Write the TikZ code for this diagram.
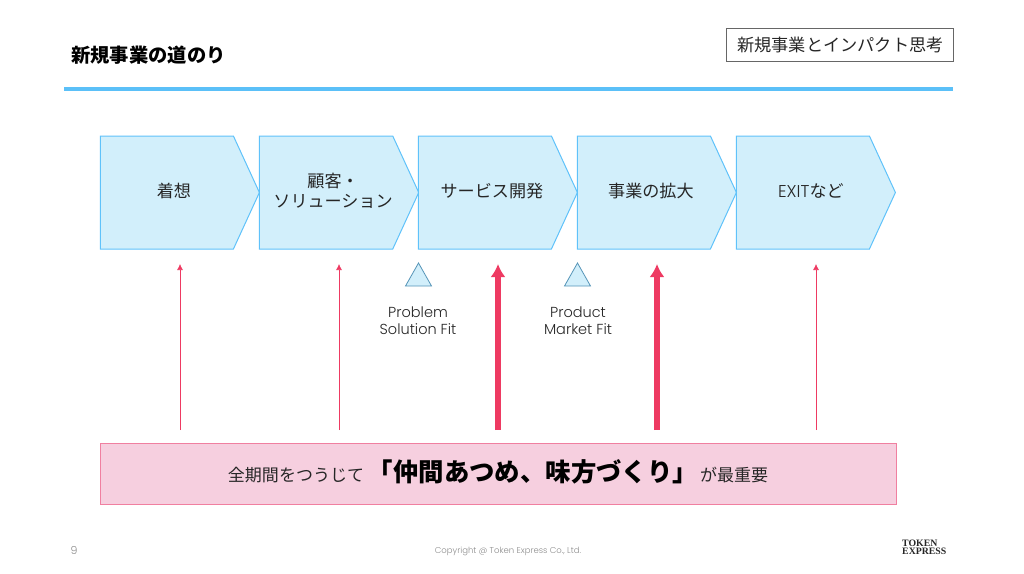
\documentclass[tikz,border=0pt]{standalone}
\usepackage{fontspec}
\setmainfont{Noto Sans CJK JP}
\newfontfamily\latfont{Poppins Light}
\newfontfamily\logofont{Liberation Serif}
\usetikzlibrary{shapes.symbols,shapes.geometric}
\usetikzlibrary{arrows.meta}
\definecolor{stepfill}{HTML}{D2EFFB}
\definecolor{stepline}{HTML}{5FC2FA}
\definecolor{rulecol}{HTML}{5BC0F8}
\definecolor{pinkfill}{HTML}{F6CFDF}
\definecolor{pinkline}{HTML}{F07FA0}
\definecolor{arrowcol}{HTML}{EE3A62}
\definecolor{textcol}{HTML}{262626}
\definecolor{footcol}{HTML}{8C8C8C}
\newcommand\stagepad[1]{\hspace*{14pt}\raisebox{0pt}[\height][\dimexpr\depth+3pt]{#1}}
\tikzset{
  stagebox/.style={signal, signal to=east, signal from=nowhere, signal pointer angle=130.6,
    anchor=west, minimum width=159pt, minimum height=113pt, inner sep=0pt, outer sep=0pt,
    draw=stepline, fill=stepfill, line width=1pt, text=textcol, font=\fontsize{17.1}{20.5}\selectfont, align=center},
  fitmark/.style={isosceles triangle, isosceles triangle stretches, shape border rotate=90,
    anchor=lower side, minimum width=26pt, minimum height=23pt, inner sep=0pt, outer sep=0pt,
    draw=stepline!70!black!90, fill=stepfill, line width=0.8pt},
  fitlabel/.style={text=textcol, font=\fontsize{14.5}{16.5}\latfont, align=center},
  thinarrow/.style={draw=arrowcol, line width=0.7pt, -{Latex[length=6pt,width=6pt]}},
  thickarrow/.style={draw=arrowcol, line width=5.5pt, -{Latex[length=13pt,width=15pt]}},
}
\begin{document}
\begin{tikzpicture}[x=1pt,y=-1pt]
\useasboundingbox (0,0) rectangle (1024,573);
% header
\node[anchor=west, font=\fontsize{19.3}{23}\bfseries, text=black] (title) at (67.7,55) {新規事業の道のり};
\node[draw=black!60, line width=0.7pt, minimum width=227pt, minimum height=33pt, inner sep=0pt,
  font=\fontsize{17.2}{21}\selectfont, text=textcol] (tag) at (839.5,44.5) {\hspace*{2pt}新規事業とインパクト思考};
\coordinate (ruleL) at (64,88.5);
\coordinate (ruleR) at (953,88.5);
\draw[rulecol, line width=4pt] (ruleL) -- (ruleR);
% stages
\node[stagebox] (idea) at (100.4,192.5) {\stagepad{着想}};
\node[stagebox] (solution) at (259.4,192.5) {\stagepad{顧客・}\\\stagepad{ソリューション}};
\node[stagebox] (service) at (418.4,192.5) {\stagepad{サービス開発}};
\node[stagebox] (scale) at (577.4,192.5) {\stagepad{事業の拡大}};
\node[stagebox] (exit) at (736.4,192.5) {\hspace*{2pt}\stagepad{{\latfont EXIT}など}};
% fit marks
\node[fitmark] (psfit) at (418.5,286) {};
\node[fitmark] (pmfit) at (577.5,286) {};
\node[fitlabel] (pslabel) at (418,320.5) {Problem\\Solution Fit};
\node[fitlabel] (pmlabel) at (578,320.5) {Product\\Market Fit};
% team box
\node[draw=pinkline, fill=pinkfill, line width=1pt, minimum width=796pt, minimum height=61pt,
  inner sep=0pt, text=textcol, font=\fontsize{17}{21}\selectfont] (team) at (498,473.5)
  {\raisebox{0pt}[\height][\dimexpr\depth+3pt]{全期間をつうじて {\fontsize{25.4}{28}\bfseries\color{black}「仲間あつめ、味方づくり」}\hspace{2pt}が最重要}};
% arrows
\coordinate (a1) at (180,430); \coordinate (b1) at (180,264);
\coordinate (a2) at (339,430); \coordinate (b2) at (339,264);
\coordinate (a3) at (498,430); \coordinate (b3) at (498,264);
\coordinate (a4) at (657,430); \coordinate (b4) at (657,264);
\coordinate (a5) at (816,430); \coordinate (b5) at (816,264);
\draw[thinarrow] (a1) -- (b1);
\draw[thinarrow] (a2) -- (b2);
\draw[thickarrow] (a3) -- (b3);
\draw[thickarrow] (a4) -- (b4);
\draw[thinarrow] (a5) -- (b5);
% footer
\node[text=footcol, font=\fontsize{11}{13}\latfont] (pageno) at (74,550) {9};
\node[text=footcol, font=\fontsize{8.5}{10}\latfont] (copyright) at (508,551) {Copyright @ Token Express Co., Ltd.};
\node[align=left, anchor=west, inner sep=0pt, text=black!85, font=\fontsize{9.8}{8.5}\logofont\bfseries] (logo) at (902,547.5) {TOKEN\\EXPRESS};
\end{tikzpicture}
\end{document}
